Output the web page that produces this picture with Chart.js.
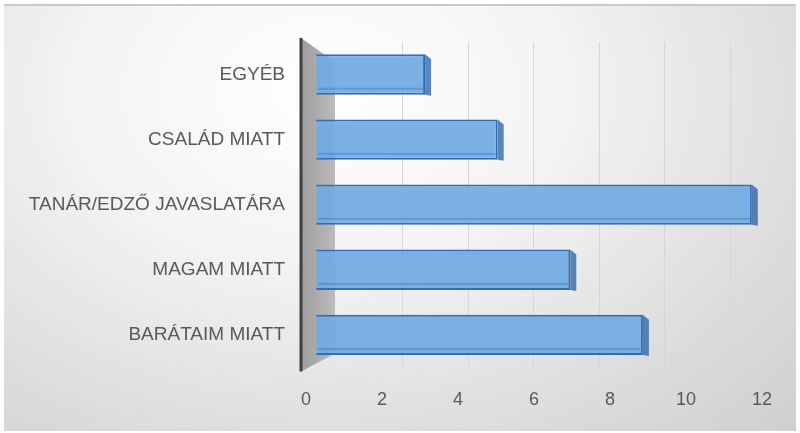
<!DOCTYPE html>
<html>
<head>
<meta charset="utf-8">
<script src="https://cdn.jsdelivr.net/npm/chart.js@4.4.1/dist/chart.umd.min.js"></script>
<style>
    html, body { margin: 0; padding: 0; }
    body { width: 800px; height: 433px; overflow: hidden; background: #fff; }
    #wrap {
        position: absolute; left: 4px; top: 4px; width: 792px; height: 425px;
        border-top: 2px solid #c8c8c8;
        background: radial-gradient(ellipse at 40% 20%, #ffffff 0%, #f4f4f4 35%, #dcdcdc 75%, #cfcfcf 100%);
    }
    canvas { position: absolute; left: -4px; top: -6px; }
</style>
</head>
<body>
<div id="wrap"><canvas id="chart" width="800" height="433"></canvas></div>
<script>
const categories = ['EGYÉB', 'CSALÁD MIATT', 'TANÁR/EDZŐ JAVASLATÁRA', 'MAGAM MIATT', 'BARÁTAIM MIATT'];
const values = [3, 5, 12, 7, 9];
const xTicks = [0, 2, 4, 6, 8, 10, 12];
const gridTicks = [2, 4, 6, 8, 10, 12];

// gray side wall next to the vertical axis
const wallPlugin = {
    id: 'wall',
    beforeDatasetsDraw(chart) {
        const { ctx, chartArea } = chart;
        const left = chartArea.left - 5;
        const d = 34;
        const g = ctx.createLinearGradient(left, 0, left + d, 0);
        g.addColorStop(0, '#9c9c9c');
        g.addColorStop(1, '#bcbcbc');
        ctx.save();
        ctx.fillStyle = g;
        ctx.beginPath();
        ctx.moveTo(left, chartArea.top - 4);
        ctx.lineTo(left + d, chartArea.top + 20);
        ctx.lineTo(left + d, chartArea.bottom - 14);
        ctx.lineTo(left, chartArea.bottom + 4);
        ctx.closePath();
        ctx.fill();
        ctx.strokeStyle = '#404040';
        ctx.lineWidth = 3;
        ctx.beginPath();
        ctx.moveTo(left, chartArea.top - 4);
        ctx.lineTo(left, chartArea.bottom + 4);
        ctx.stroke();
        ctx.restore();
    }
};

// thin darker faces to hint at the 3d bars
const barFacePlugin = {
    id: 'barFace',
    afterDatasetsDraw(chart) {
        const { ctx } = chart;
        const meta = chart.getDatasetMeta(0);
        ctx.save();
        meta.data.forEach(bar => {
            const top = bar.y - bar.height / 2;
            const bottom = bar.y + bar.height / 2;
            ctx.fillStyle = 'rgba(40, 95, 160, 0.75)';
            ctx.beginPath();
            ctx.moveTo(bar.x, top);
            ctx.lineTo(bar.x + 6, top + 5);
            ctx.lineTo(bar.x + 6, bottom + 1);
            ctx.lineTo(bar.x, bottom);
            ctx.closePath();
            ctx.fill();
            ctx.fillStyle = 'rgba(40, 95, 160, 0.3)';
            ctx.fillRect(bar.base + 2, bottom - 7, bar.x - bar.base - 4, 2);
        });
        ctx.restore();
    }
};

new Chart(document.getElementById('chart').getContext('2d'), {
    type: 'bar',
    data: {
        labels: categories,
        datasets: [{
            data: values,
            xAxisID: 'xBar',
            backgroundColor: 'rgba(112, 170, 226, 0.92)',
            borderColor: '#2f6fb5',
            borderWidth: 2,
            barPercentage: 0.62,
            categoryPercentage: 1
        }]
    },
    options: {
        indexAxis: 'y',
        responsive: false,
        animation: false,
        layout: { padding: { top: 42, right: 38, bottom: 0, left: 0 } },
        plugins: {
            legend: { display: false },
            tooltip: { enabled: false }
        },
        scales: {
            x: {
                min: 0,
                max: 12,
                afterBuildTicks: scale => { scale.ticks = xTicks.map(v => ({ value: v })); },
                grid: { display: false, drawTicks: false },
                border: { display: false },
                ticks: {
                    color: '#595959',
                    padding: 22,
                    font: { family: 'Liberation Sans, Arial, sans-serif', size: 18 }
                }
            },
            // bars sit a little deeper in the 3d box, so their scale is slightly shorter
            xBar: {
                axis: 'x',
                display: false,
                min: -0.28,
                max: 12.28
            },
            // gridlines live on the back wall, shortest scale of all
            xGrid: {
                axis: 'x',
                position: 'top',
                min: -0.945,
                max: 12.96,
                afterBuildTicks: scale => { scale.ticks = gridTicks.map(v => ({ value: v })); },
                grid: { color: '#d6d6d6', lineWidth: 1, drawTicks: false },
                border: { display: false },
                ticks: { display: false, padding: 0 }
            },
            y: {
                afterFit: scale => { scale.width = 306; },
                grid: { display: false, drawTicks: false },
                border: { display: false },
                ticks: {
                    color: '#595959',
                    padding: 21,
                    font: { family: 'Liberation Sans, Arial, sans-serif', size: 19 }
                }
            }
        }
    },
    plugins: [wallPlugin, barFacePlugin]
});
</script>
</body>
</html>
